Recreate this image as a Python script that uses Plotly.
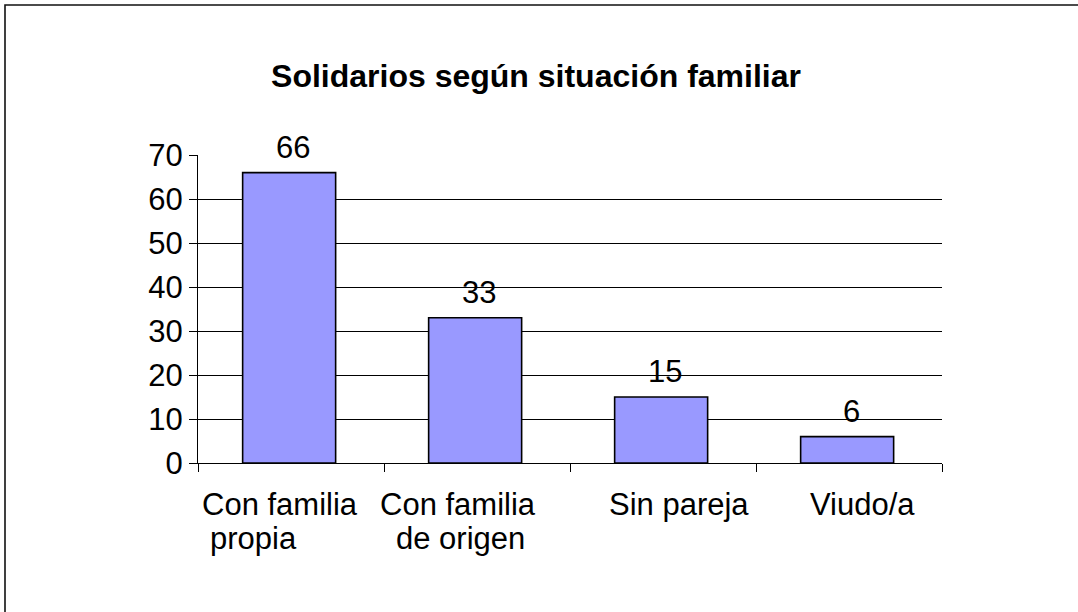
import plotly.graph_objects as go

# ---- data ----
categories = ["Con familia propia", "Con familia de origen", "Sin pareja", "Viudo/a"]
values = [66, 33, 15, 6]
label_lines = [["Con familia", "propia"], ["Con familia", "de origen"], ["Sin pareja"], ["Viudo/a"]]
y_ticks = [0, 10, 20, 30, 40, 50, 60, 70]
title_text = "Solidarios según situación familiar"

# ---- styling ----
FONT = "Liberation Sans, Arial, sans-serif"
FS = 31
W, H = 1078, 612
L, R, T, B = 198, 136, 155, 149
PW, PH = W - L - R, H - T - B

# per-line label placement: (xanchor, xshift)
line_style = [
    [("left", -91), ("left", -83)],
    [("center", -19), ("center", -17)],
    [("center", 16)],
    [("center", 13)],
]

fig = go.Figure()
fig.add_trace(go.Bar(
    x=categories, y=values,
    marker=dict(color="#9999FF", line=dict(color="#000000", width=1.6)),
    width=0.5, offset=-0.26, showlegend=False, hoverinfo="skip",
))

annotations = []
for cat, v in zip(categories, values):
    annotations.append(dict(
        x=cat, y=v, xref="x", yref="y", text=str(v), showarrow=False,
        xanchor="center", yanchor="bottom", xshift=2, yshift=6,
        font=dict(family=FONT, size=FS, color="#000000"),
    ))
for cat, lines, styles in zip(categories, label_lines, line_style):
    for i, (txt, (xa, xs)) in enumerate(zip(lines, styles)):
        annotations.append(dict(
            x=cat, y=0, xref="x", yref="y", text=txt, showarrow=False,
            xanchor=xa, yanchor="top", xshift=xs, yshift=-22 - 34 * i,
            font=dict(family=FONT, size=FS, color="#000000"),
        ))

def px_x(p):
    return (p - L) / PW

def px_y(p):
    return (H - B - p) / PH

# outer frame (only top and left edges fall inside the picture)
shapes = [dict(type="rect", xref="paper", yref="paper",
               x0=px_x(5), x1=px_x(W + 20), y0=px_y(H + 20), y1=px_y(5),
               line=dict(color="#111111", width=1.6), fillcolor="rgba(0,0,0,0)",
               layer="below")]

fig.update_layout(
    width=W, height=H,
    margin=dict(l=L, r=R, t=T, b=B),
    paper_bgcolor="#ffffff", plot_bgcolor="#ffffff",
    font=dict(family=FONT, size=FS, color="#000000"),
    title=dict(text="<b>" + title_text + "</b>", x=(536 - L) / PW, xref="paper",
               xanchor="center", y=1 - 76 / H, yref="container", yanchor="middle",
               font=dict(family=FONT, size=32, color="#000000")),
    bargap=0.5,
    annotations=annotations,
    shapes=shapes,
    xaxis=dict(
        type="category", showline=True, linecolor="#000000", linewidth=1,
        ticks="outside", tickson="boundaries", ticklen=8, tickcolor="#000000",
        tickwidth=1, showticklabels=False, showgrid=False, zeroline=False,
    ),
    yaxis=dict(
        range=[0, 70], tickvals=y_ticks, ticktext=[str(t) for t in y_ticks],
        showline=True, linecolor="#000000", linewidth=1,
        ticks="outside", ticklen=8, tickcolor="#000000", tickwidth=1,
        showgrid=True, gridcolor="#000000", gridwidth=1, zeroline=False,
        tickfont=dict(family=FONT, size=FS, color="#000000"),
    ),
)

fig.write_html("out.html", config={"displayModeBar": False},
               post_script="document.body.style.margin='0';document.body.style.overflow='hidden';")
